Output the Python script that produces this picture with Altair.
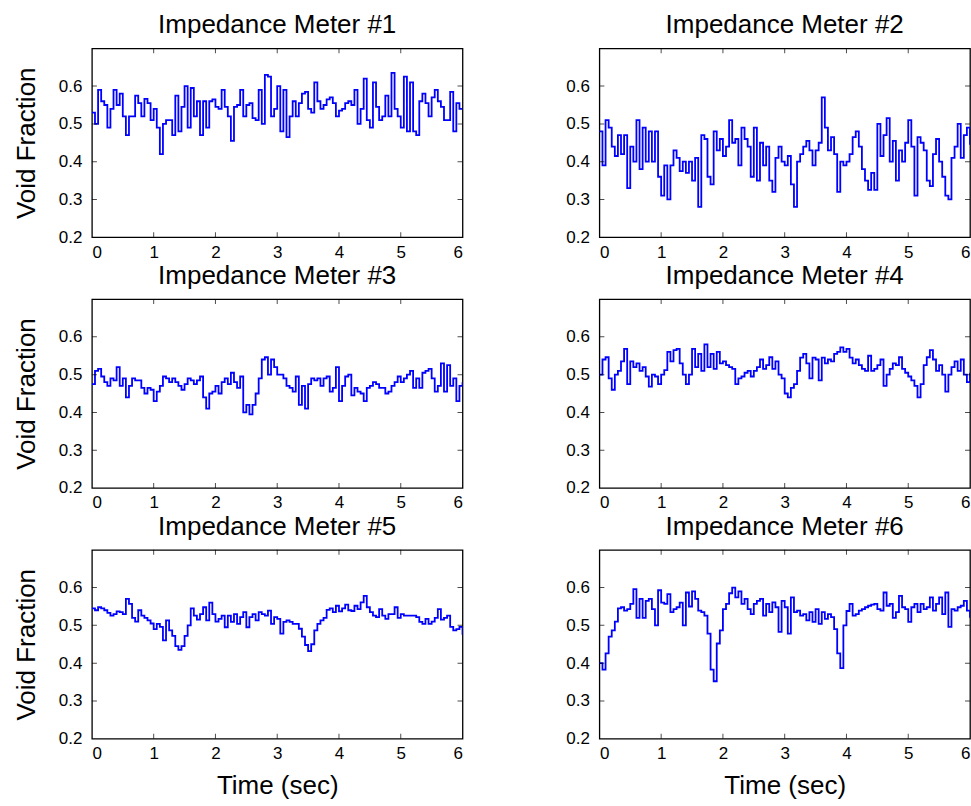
import altair as alt
import pandas as pd

# Sampling times (s) shared by all six meters
T_STEP = 0.05
time_s = [round(i * T_STEP, 2) for i in range(121)]

titles = [
    "Impedance Meter #1", "Impedance Meter #2",
    "Impedance Meter #3", "Impedance Meter #4",
    "Impedance Meter #5", "Impedance Meter #6",
]

meter1 = [
    0.53, 0.50, 0.59, 0.56, 0.55, 0.49, 0.54, 0.59, 0.55, 0.58,
    0.52, 0.47, 0.52, 0.52, 0.575, 0.555, 0.52, 0.566, 0.555, 0.51,
    0.54, 0.49, 0.42, 0.50, 0.51, 0.51, 0.47, 0.575, 0.48, 0.545,
    0.60, 0.49, 0.595, 0.52, 0.56, 0.47, 0.56, 0.49, 0.56, 0.565,
    0.545, 0.54, 0.59, 0.545, 0.52, 0.455, 0.545, 0.55, 0.59, 0.52,
    0.55, 0.555, 0.515, 0.51, 0.59, 0.50, 0.63, 0.625, 0.52, 0.54,
    0.60, 0.48, 0.59, 0.465, 0.52, 0.56, 0.52, 0.555, 0.58, 0.585,
    0.54, 0.53, 0.61, 0.56, 0.54, 0.55, 0.565, 0.57, 0.555, 0.52,
    0.535, 0.54, 0.555, 0.56, 0.55, 0.59, 0.50, 0.54, 0.62, 0.51,
    0.49, 0.61, 0.545, 0.51, 0.52, 0.575, 0.52, 0.635, 0.54, 0.52,
    0.49, 0.625, 0.48, 0.61, 0.48, 0.47, 0.56, 0.58, 0.555, 0.52,
    0.57, 0.59, 0.56, 0.545, 0.51, 0.51, 0.585, 0.48, 0.555, 0.54,
    0.54,
]

meter2 = [
    0.48, 0.39, 0.51, 0.49, 0.44, 0.415, 0.47, 0.42, 0.47, 0.33,
    0.44, 0.40, 0.51, 0.38, 0.49, 0.40, 0.48, 0.40, 0.48, 0.36,
    0.31, 0.39, 0.30, 0.39, 0.43, 0.41, 0.375, 0.40, 0.37, 0.40,
    0.35, 0.41, 0.28, 0.47, 0.46, 0.36, 0.34, 0.48, 0.43, 0.46,
    0.415, 0.44, 0.51, 0.45, 0.46, 0.39, 0.49, 0.46, 0.44, 0.36,
    0.49, 0.35, 0.45, 0.39, 0.44, 0.35, 0.32, 0.41, 0.44, 0.40,
    0.39, 0.415, 0.34, 0.28, 0.40, 0.42, 0.44, 0.455, 0.43, 0.39,
    0.43, 0.45, 0.57, 0.49, 0.43, 0.465, 0.42, 0.32, 0.40, 0.39,
    0.40, 0.42, 0.465, 0.48, 0.44, 0.38, 0.35, 0.325, 0.37, 0.325,
    0.50, 0.415, 0.47, 0.515, 0.40, 0.455, 0.35, 0.43, 0.40, 0.45,
    0.51, 0.44, 0.31, 0.465, 0.45, 0.43, 0.35, 0.335, 0.42, 0.46,
    0.40, 0.36, 0.31, 0.30, 0.41, 0.44, 0.50, 0.41, 0.47, 0.49,
    0.445,
]

meter3 = [
    0.475, 0.51, 0.515, 0.495, 0.48, 0.47, 0.49, 0.485, 0.52, 0.47,
    0.49, 0.44, 0.47, 0.49, 0.485, 0.485, 0.465, 0.45, 0.465, 0.46,
    0.43, 0.455, 0.47, 0.495, 0.49, 0.48, 0.49, 0.48, 0.47, 0.46,
    0.475, 0.49, 0.485, 0.475, 0.485, 0.495, 0.44, 0.41, 0.45, 0.455,
    0.47, 0.45, 0.48, 0.49, 0.475, 0.505, 0.48, 0.465, 0.495, 0.40,
    0.42, 0.395, 0.42, 0.45, 0.49, 0.54, 0.546, 0.50, 0.54, 0.52,
    0.50, 0.50, 0.49, 0.47, 0.465, 0.455, 0.495, 0.42, 0.47, 0.41,
    0.475, 0.49, 0.485, 0.49, 0.47, 0.49, 0.495, 0.455, 0.465, 0.52,
    0.43, 0.47, 0.495, 0.50, 0.445, 0.465, 0.455, 0.45, 0.43, 0.465,
    0.47, 0.48, 0.475, 0.465, 0.465, 0.45, 0.455, 0.47, 0.48, 0.495,
    0.48, 0.49, 0.50, 0.51, 0.465, 0.49, 0.465, 0.505, 0.51, 0.515,
    0.49, 0.455, 0.47, 0.53, 0.455, 0.525, 0.47, 0.49, 0.43, 0.47,
    0.48,
]

meter4 = [
    0.50, 0.54, 0.546, 0.49, 0.46, 0.50, 0.51, 0.535, 0.568, 0.475,
    0.535, 0.52, 0.53, 0.51, 0.52, 0.495, 0.468, 0.50, 0.495, 0.475,
    0.50, 0.512, 0.56, 0.535, 0.565, 0.568, 0.53, 0.50, 0.475, 0.50,
    0.568, 0.52, 0.555, 0.51, 0.58, 0.52, 0.555, 0.515, 0.56, 0.53,
    0.535, 0.525, 0.52, 0.515, 0.475, 0.49, 0.495, 0.505, 0.51, 0.495,
    0.51, 0.52, 0.54, 0.515, 0.525, 0.546, 0.515, 0.535, 0.50, 0.49,
    0.45, 0.44, 0.465, 0.475, 0.51, 0.545, 0.555, 0.53, 0.49, 0.545,
    0.54, 0.485, 0.545, 0.53, 0.54, 0.535, 0.555, 0.56, 0.572, 0.56,
    0.568, 0.545, 0.53, 0.54, 0.525, 0.515, 0.51, 0.55, 0.51, 0.515,
    0.525, 0.54, 0.47, 0.50, 0.515, 0.53, 0.525, 0.546, 0.515, 0.505,
    0.495, 0.485, 0.47, 0.44, 0.475, 0.525, 0.546, 0.565, 0.54, 0.51,
    0.525, 0.50, 0.455, 0.50, 0.52, 0.535, 0.51, 0.54, 0.50, 0.48,
    0.505,
]

meter5 = [
    0.545, 0.54, 0.548, 0.545, 0.54, 0.533, 0.526, 0.53, 0.537, 0.535,
    0.53, 0.57, 0.557, 0.52, 0.51, 0.54, 0.526, 0.52, 0.513, 0.505,
    0.49, 0.504, 0.496, 0.46, 0.513, 0.487, 0.472, 0.445, 0.435, 0.445,
    0.472, 0.50, 0.545, 0.526, 0.515, 0.53, 0.548, 0.513, 0.56, 0.53,
    0.51, 0.517, 0.526, 0.495, 0.526, 0.509, 0.53, 0.504, 0.522, 0.535,
    0.495, 0.522, 0.53, 0.513, 0.535, 0.53, 0.526, 0.539, 0.504, 0.522,
    0.517, 0.478, 0.509, 0.513, 0.509, 0.504, 0.504, 0.491, 0.47, 0.448,
    0.432, 0.45, 0.487, 0.504, 0.513, 0.52, 0.541, 0.545, 0.535, 0.552,
    0.537, 0.545, 0.555, 0.54, 0.538, 0.552, 0.543, 0.561, 0.578, 0.548,
    0.535, 0.526, 0.522, 0.543, 0.526, 0.517, 0.53, 0.53, 0.548, 0.52,
    0.53, 0.526, 0.526, 0.526, 0.526, 0.522, 0.509, 0.504, 0.517, 0.504,
    0.51, 0.52, 0.543, 0.515, 0.52, 0.526, 0.496, 0.487, 0.49, 0.496,
    0.475,
]

meter6 = [
    0.40, 0.383, 0.426, 0.47, 0.487, 0.51, 0.545, 0.548, 0.539, 0.543,
    0.557, 0.596, 0.52, 0.57, 0.52, 0.565, 0.57, 0.543, 0.50, 0.593,
    0.56, 0.557, 0.583, 0.535, 0.543, 0.548, 0.56, 0.50, 0.587, 0.55,
    0.59, 0.57, 0.539, 0.535, 0.526, 0.478, 0.383, 0.352, 0.452, 0.487,
    0.543, 0.557, 0.585, 0.60, 0.574, 0.59, 0.557, 0.57, 0.543, 0.53,
    0.557, 0.565, 0.57, 0.526, 0.557, 0.535, 0.561, 0.548, 0.483, 0.565,
    0.548, 0.478, 0.574, 0.535, 0.539, 0.526, 0.53, 0.513, 0.535, 0.509,
    0.543, 0.504, 0.535, 0.517, 0.53, 0.522, 0.49, 0.426, 0.387, 0.50,
    0.538, 0.557, 0.526, 0.53, 0.539, 0.543, 0.548, 0.552, 0.555, 0.557,
    0.543, 0.539, 0.587, 0.552, 0.557, 0.52, 0.535, 0.578, 0.548, 0.543,
    0.509, 0.548, 0.557, 0.535, 0.557, 0.543, 0.548, 0.574, 0.539, 0.557,
    0.574, 0.53, 0.587, 0.496, 0.543, 0.539, 0.548, 0.552, 0.565, 0.539,
    0.52,
]

meters = [meter1, meter2, meter3, meter4, meter5, meter6]

x_ticks = [0, 1, 2, 3, 4, 5, 6]
y_ticks = [0.2, 0.3, 0.4, 0.5, 0.6]
X_DOMAIN = [0, 6]
Y_DOMAIN = [0.2, 0.7]

FONT = "Liberation Sans"
PANEL_W, PANEL_H = 371, 189

x_scale = alt.Scale(domain=X_DOMAIN, nice=False, zero=False)
y_scale = alt.Scale(domain=Y_DOMAIN, nice=False, zero=False)

# inward tick marks on all four sides of each box (half of each tick is clipped away)
x_tick_df = pd.DataFrame({
    "time": [1, 2, 3, 4, 5] * 2,
    "void": [Y_DOMAIN[0]] * 5 + [Y_DOMAIN[1]] * 5,
})
y_tick_df = pd.DataFrame({
    "time": [X_DOMAIN[0]] * 4 + [X_DOMAIN[1]] * 4,
    "void": [0.3, 0.4, 0.5, 0.6] * 2,
})


def panel(values, title, row, col):
    df = pd.DataFrame({"time": time_s, "void": values})
    x_title = "Time (sec)" if row == 2 else None
    y_title = "Void Fraction" if col == 0 else None

    x_enc = alt.X("time:Q", scale=x_scale, title=x_title,
                  axis=alt.Axis(values=x_ticks, format="d", labelPadding=7,
                                titlePadding=11))
    y_enc = alt.Y("void:Q", scale=y_scale, title=y_title,
                  axis=alt.Axis(values=y_ticks, format=".1f", labelPadding=10,
                                titlePadding=19))

    line = alt.Chart(df).mark_line(
        color="#0000ff", strokeWidth=1.8, interpolate="step-after", clip=True
    ).encode(x=x_enc, y=y_enc)

    xt = alt.Chart(x_tick_df).mark_tick(
        orient="vertical", size=10, thickness=1, color="black", clip=True
    ).encode(x=x_enc, y=y_enc)
    yt = alt.Chart(y_tick_df).mark_tick(
        orient="horizontal", size=10, thickness=1, color="black", clip=True
    ).encode(x=x_enc, y=y_enc)

    return alt.layer(line, xt, yt).properties(
        width=PANEL_W,
        height=PANEL_H,
        title=alt.TitleParams(text=title, anchor="middle", offset=10),
    )


panels = [panel(meters[k], titles[k], k // 2, k % 2) for k in range(6)]

chart = alt.concat(
    *panels, columns=2, spacing={"row": 62, "column": 137}, bounds="flush"
).properties(
    padding={"left": 12, "top": 11, "right": 0, "bottom": 0},
    background="white",
).configure_view(
    stroke="black", strokeWidth=1.3
).configure_axis(
    domain=False, ticks=False, grid=False,
    labelFont=FONT, labelFontSize=17, labelColor="black",
    titleFont=FONT, titleFontSize=26, titleFontWeight="normal", titleColor="black",
).configure_title(
    font=FONT, fontSize=26, fontWeight="normal", color="black",
)

chart.save("out.html", embed_options={"renderer": "svg", "actions": False})
